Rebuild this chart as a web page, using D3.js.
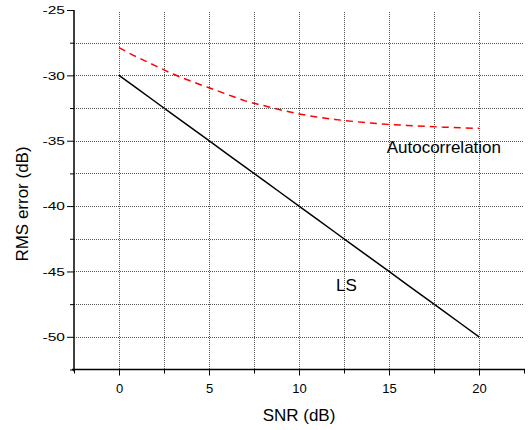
<!DOCTYPE html>
<html>
<head>
<meta charset="utf-8">
<script src="https://cdn.jsdelivr.net/npm/d3@7"></script>
<style>
  body { margin: 0; background: #fff; }
  svg { display: block; font-family: "Liberation Sans", Arial, sans-serif; }
  .grid line { stroke: #555; stroke-width: 1; stroke-dasharray: 1,1; shape-rendering: crispEdges; }
  .axis path, .axis line { stroke: #000; }
  .axis path { stroke-width: 1.5; }
</style>
</head>
<body>
<svg id="chart"></svg>
<script>
// data
const snr = [0, 1, 2, 3, 4, 5, 6, 7, 8, 9, 10, 11, 12, 13, 14, 15, 16, 17, 18, 19, 20];
const lsError = [-30, -31, -32, -33, -34, -35, -36, -37, -38, -39, -40,
  -41, -42, -43, -44, -45, -46, -47, -48, -49, -50];
const autoError = [-27.88, -28.6, -29.25, -29.9, -30.45, -30.95, -31.45, -31.95, -32.3, -32.65, -32.95,
  -33.18, -33.37, -33.52, -33.65, -33.75, -33.83, -33.9, -33.96, -34.01, -34.05];

const xMajor = [0, 5, 10, 15, 20];
const xMinor = [-2.5, 2.5, 7.5, 12.5, 17.5, 22.5];
const xGrid = [0, 2.5, 5, 7.5, 10, 12.5, 15, 17.5, 20];
const yMajor = [-25, -30, -35, -40, -45, -50];
const yMinor = [-27.5, -32.5, -37.5, -42.5, -47.5, -52.5];
const yGrid = [-27.5, -30, -32.5, -35, -37.5, -40, -42.5, -45, -47.5, -50];

const svg = d3.select("#chart")
    .attr("width", 529)
    .attr("height", 430),
  margin = {top: 10, right: 5, bottom: 60.5, left: 74},
  width = 529 - margin.left - margin.right,
  height = 430 - margin.top - margin.bottom,
  g = svg.append("g").attr("transform", "translate(" + margin.left + "," + margin.top + ")");

const xScale = d3.scaleLinear().domain([-2.5, 22.5]).range([0, width]);
const yScale = d3.scaleLinear().domain([-52.5, -25]).range([height, 0]);

// dotted grid
g.append("g").attr("class", "grid")
  .selectAll("line").data(xGrid).join("line")
  .attr("x1", d => Math.round(xScale(d)) + 0.5).attr("x2", d => Math.round(xScale(d)) + 0.5)
  .attr("y1", 2).attr("y2", height);

g.append("g").attr("class", "grid")
  .selectAll("line").data(yGrid).join("line")
  .attr("x1", 0).attr("x2", width)
  .attr("y1", d => Math.round(yScale(d)) + 0.5).attr("y2", d => Math.round(yScale(d)) + 0.5);

// axes
g.append("g")
  .attr("class", "axis")
  .attr("transform", "translate(0," + height + ")")
  .call(d3.axisBottom(xScale).tickValues(xMinor).tickSize(4).tickFormat(""))
  .call(g => g.select(".domain").remove());

g.append("g")
  .attr("class", "axis")
  .attr("transform", "translate(0," + height + ")")
  .call(d3.axisBottom(xScale).tickValues(xMajor).tickFormat(d => String(d))
    .tickSizeInner(6).tickSizeOuter(0).tickPadding(8))
  .call(g => g.select(".domain").attr("d", "M-2," + 0 + "H" + (width + 1)))
  .selectAll("text")
  .attr("font-size", 13)
  .attr("font-family", "Liberation Sans, Arial, sans-serif")
  .attr("fill", "#000");

g.append("g")
  .attr("class", "axis")
  .call(d3.axisLeft(yScale).tickValues(yMinor).tickSize(4).tickFormat(""))
  .call(g => g.select(".domain").remove());

// the y tick labels are drawn wide in the original
const yStretch = 1.35;
g.append("g")
  .attr("class", "axis")
  .call(d3.axisLeft(yScale).tickValues(yMajor).tickFormat(d => String(d))
    .tickSizeInner(7).tickSizeOuter(0).tickPadding(2))
  .call(g => g.select(".domain").attr("d", "M0,0V" + (height + 2)))
  .selectAll("text")
  .attr("font-size", 11.5)
  .attr("font-family", "Liberation Sans, Arial, sans-serif")
  .attr("fill", "#000")
  .attr("x", -9 / yStretch)
  .attr("transform", "scale(" + yStretch + ",1)");

// lines
const line = d3.line()
  .x((d, i) => xScale(snr[i]))
  .y(d => yScale(d));

g.append("path")
  .datum(lsError)
  .attr("fill", "none")
  .attr("stroke", "#000")
  .attr("stroke-width", 1.5)
  .attr("d", line);

g.append("path")
  .datum(autoError)
  .attr("fill", "none")
  .attr("stroke", "#ff0000")
  .attr("stroke-width", 1.5)
  .attr("stroke-dasharray", "7,5")
  .attr("d", line.curve(d3.curveMonotoneX));

// labels
g.append("text")
  .attr("x", xScale(14.87)).attr("y", yScale(-35.94))
  .attr("font-size", 17)
  .text("Autocorrelation");

g.append("text")
  .attr("x", xScale(12.06)).attr("y", yScale(-46.5))
  .attr("font-size", 17)
  .text("LS");

svg.append("text")
  .attr("x", margin.left + xScale(10)).attr("y", 421)
  .attr("text-anchor", "middle")
  .attr("font-size", 17)
  .text("SNR (dB)");

svg.append("text")
  .attr("transform", "translate(28,204) rotate(-90)")
  .attr("text-anchor", "middle")
  .attr("font-size", 17)
  .text("RMS error (dB)");
</script>
</body>
</html>
